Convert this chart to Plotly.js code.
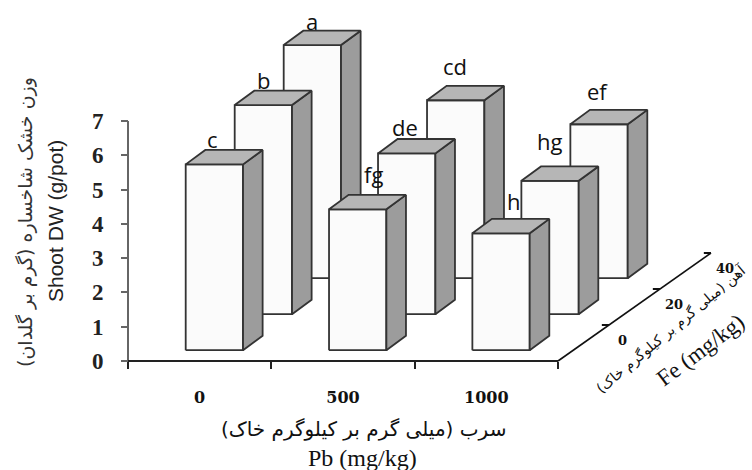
<!DOCTYPE html>
<html><head><meta charset="utf-8">
<script src="https://cdn.plot.ly/plotly-3.0.1.min.js"></script>
<style>html,body{margin:0;padding:0;background:#fff}#c{width:752px;height:470px}</style>
</head><body><div id="c"></div>
<script>
const pbLabels = ['0','500','1000'];
const feLabels = ['0','20','40'];
// rows: Fe 0, 20, 40; columns: Pb 0, 500, 1000
const valuesFe0  = [5.42, 4.11, 3.41];
const valuesFe20 = [6.10, 4.69, 3.89];
const valuesFe40 = [6.80, 5.19, 4.49];
const lettersFe0  = ['c','fg','h'];
const lettersFe20 = ['b','de','hg'];
const lettersFe40 = ['a','cd','ef'];

// oblique projection of (Pb slot, Fe slot, value) on the plain 2D axes
const W = 752, H = 470, L = 128, R = 558, T = 121, B = 361;
const ux = (R - L) / 3, uy = (B - T) / 7;
const depthY = 36 / uy;
const proj = (i, j, v) => [i + j * 49 / ux, v + j * depthY];
const projAxis = (i, j, v) => [i + j * 51 / ux, v + j * depthY];

const rows = [valuesFe0, valuesFe20, valuesFe40];
const letters = [lettersFe0, lettersFe20, lettersFe40];
const shifts = {a:[-20,10], b:[-19,11], c:[-21,11], fg:[-4,21], de:[-21,12], cd:[-20,20], h:[-7,18], hg:[-20,25], ef:[-21,19]};

const traces = [];
function line(xs, ys, color, width) {
  traces.push({type:'scatter', mode:'lines', x:xs, y:ys, line:{color, width},
    hoverinfo:'skip', showlegend:false, cliponaxis:false});
}
function face(pts, fill) {
  const p = pts.concat([pts[0]]).map(q => proj(q[0], q[1], q[2]));
  traces.push({type:'scatter', mode:'lines', x:p.map(q=>q[0]), y:p.map(q=>q[1]), fill:'toself',
    fillcolor:fill, line:{color:'#333333', width:1.8}, hoverinfo:'skip', showlegend:false, cliponaxis:false});
}
// axis lines
line([0,0],[0,7],'#666',2);
line([0,3],[0,0],'#222',2);
const annotations = [];
for (let j = 2; j >= 0; j--) {
  for (let i = 0; i < 3; i++) {
    const v = rows[j][i];
    const a = i + 0.3, b = i + 0.7, c = j + 0.3, d = j + 0.7;
    face([[a,c,0],[b,c,0],[b,c,v],[a,c,v]], '#fbfbfb');
    face([[b,c,0],[b,d,0],[b,d,v],[b,c,v]], '#9c9c9c');
    face([[a,c,v],[b,c,v],[b,d,v],[a,d,v]], '#b6b6b6');
    const t = letters[j][i], s = shifts[t], q = proj((a+b)/2, d, v);
    annotations.push({xref:'x', yref:'y', x:q[0], y:q[1], text:t, showarrow:false, xanchor:'center', yanchor:'middle',
      xshift:s[0], yshift:s[1], font:{family:'Open Sans', size:22, color:'#111'}});
  }
}
// depth (Fe) axis
const feAxis = [projAxis(3,0,0), projAxis(3,3,0)];
line(feAxis.map(q=>q[0]), feAxis.map(q=>q[1]), '#111', 1.6);
const tx = [], ty = [];
[1,2,3].forEach(j => { const q = projAxis(3,j,0); tx.push(q[0]-0.05, q[0], null); ty.push(q[1], q[1], null); });
line(tx, ty, '#111', 2);
feLabels.forEach((t, j) => {
  const q = projAxis(3, j + 0.5, 0);
  annotations.push({xref:'x', yref:'y', x:q[0], y:q[1], text:'<b>'+t+'</b>', showarrow:false, xanchor:'center', yanchor:'middle',
    xshift:39, yshift:3, font:{family:'DejaVu Serif', size:13, color:'#111'}});
});
const note = (x, y, text, angle, family, size, color) => annotations.push({xref:'paper', yref:'paper',
  x:x/W, y:1-y/H, xanchor:'center', yanchor:'middle', text, textangle:angle, showarrow:false,
  font:{family, size, color:color||'#111'}});
note(25, 222, 'وزن خشک شاخساره (گرم بر گلدان)', -90, 'DejaVu Sans', 19, '#333');
note(55, 221, 'Shoot DW (g/pot)', -90, 'Liberation Sans', 21, '#222');
note(363, 429, 'سرب (میلی گرم بر کیلوگرم خاک)', 0, 'DejaVu Sans', 20);
note(362, 458, 'Pb (mg/kg)', 0, 'Liberation Serif', 24);
note(671, 329, 'آهن (میلی گرم بر کیلوگرم خاک)', -40, 'DejaVu Sans', 14);
note(700, 350, 'Fe (mg/kg)', -37, 'Liberation Serif', 23);

const layout = {
  width:W, height:H, autosize:false, showlegend:false,
  paper_bgcolor:'#fff', plot_bgcolor:'rgba(0,0,0,0)',
  margin:{l:0, r:0, t:0, b:0, pad:0},
  xaxis:{range:[-L/ux, (W-L)/ux], anchor:'free', position:1-B/H, showgrid:false, zeroline:false, showline:false,
    tickmode:'array', tickvals:[0.5,1.5,2.5], ticktext:pbLabels.map(t=>'<b>'+t+'</b>'),
    ticks:'outside', ticklen:0, ticklabelstandoff:22,
    tickfont:{family:'DejaVu Serif', size:16, color:'#111'},
    minor:{tickmode:'array', tickvals:[0,1,2,3], ticks:'outside', ticklen:7, tickwidth:2, tickcolor:'#222', showgrid:false}},
  yaxis:{range:[-(H-B)/uy, B/uy], anchor:'free', position:L/W, showgrid:false, zeroline:false, showline:false,
    tickmode:'array', tickvals:[0,1,2,3,4,5,6,7], ticks:'outside', ticklen:7, tickwidth:2, tickcolor:'#666',
    ticklabelstandoff:13, tickfont:{family:'Liberation Serif', size:23, color:'#222', weight:'bold'}},
  annotations
};
Plotly.newPlot('c', traces, layout, {displayModeBar:false, staticPlot:true});
</script></body></html>
